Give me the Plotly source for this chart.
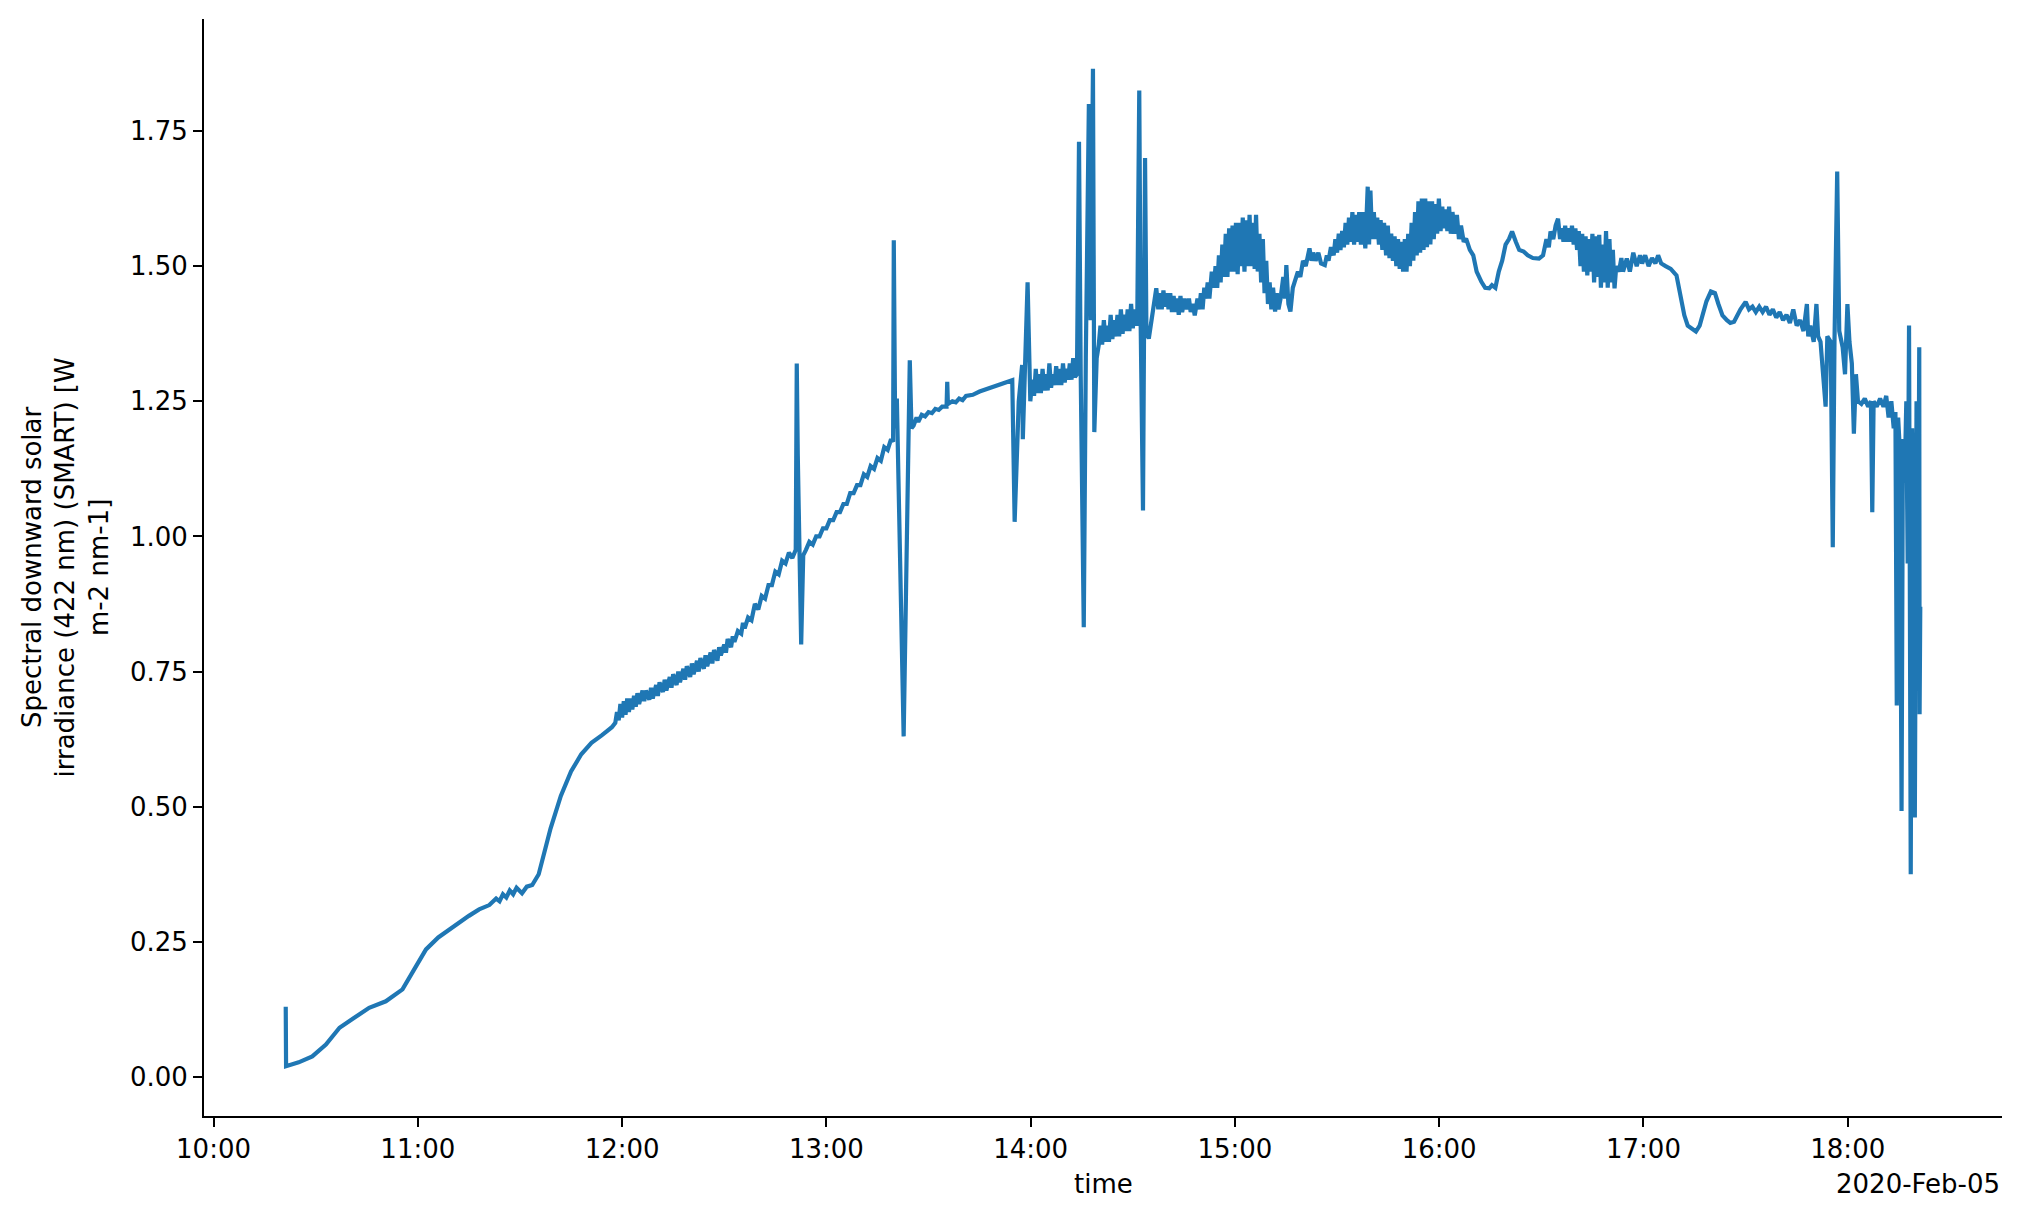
import pandas as pd
import plotly.graph_objects as go

# (minutes after 10:00, irradiance W m-2 nm-1), in segments
seg_morning = [
    (21.2, 0.13), (21.3, 0.02), (25, 0.027), (29, 0.038), (33, 0.06), (37, 0.091), (41, 0.108),
    (45.7, 0.128), (50.6, 0.14), (55.5, 0.162), (59.5, 0.205), (62.4, 0.236), (66, 0.258),
    (69.2, 0.273), (72, 0.285), (75, 0.298), (78, 0.31), (81, 0.318), (83, 0.33), (84, 0.325),
    (85, 0.338), (86, 0.332), (87, 0.345), (88, 0.338), (89, 0.35), (90.6, 0.34), (92, 0.352),
    (93.6, 0.355), (95.5, 0.375), (97, 0.41), (99, 0.46), (102, 0.52), (105, 0.565), (108, 0.597),
    (111, 0.618), (114, 0.632), (117, 0.647),
]
seg_noon = [
    (118, 0.655), (118.5, 0.675), (119, 0.66), (119.5, 0.69), (120, 0.665), (120.5, 0.695),
    (121, 0.67), (121.5, 0.70), (122, 0.675), (122.5, 0.70), (123, 0.68), (123.5, 0.705),
    (124, 0.685), (124.5, 0.71), (125, 0.69), (126, 0.715), (126.5, 0.695), (127, 0.715),
    (128, 0.698), (128.5, 0.72), (129, 0.70), (130, 0.725), (130.5, 0.705), (131, 0.73),
    (132, 0.712), (132.5, 0.735), (133, 0.715), (134, 0.74), (134.5, 0.72), (135, 0.745),
    (136, 0.725), (136.5, 0.75), (137, 0.73), (138, 0.755), (138.5, 0.735), (139, 0.76),
    (140, 0.74), (140.5, 0.765), (141, 0.745), (142, 0.77), (142.5, 0.75), (143, 0.775),
    (144, 0.755), (144.5, 0.78), (145, 0.76), (146, 0.785), (146.5, 0.765), (147, 0.79),
    (148, 0.77), (148.5, 0.795), (149, 0.78), (150, 0.80), (150.5, 0.785), (151, 0.81),
    (152, 0.795), (152.5, 0.815), (153, 0.805), (154, 0.825), (155, 0.82), (155.5, 0.84),
    (156, 0.83), (157, 0.85), (158, 0.845), (159, 0.875), (160, 0.865), (161, 0.89), (162, 0.885),
    (163, 0.91), (164, 0.91), (165, 0.935), (166, 0.93), (167, 0.955), (168, 0.95), (169, 0.97),
    (170, 0.96), (171, 0.975),
]
seg_early_pm = [
    (171.3, 1.32), (171.6, 1.15), (172.6, 0.80), (173.2, 0.965), (174, 0.975), (175, 0.99),
    (176, 0.985), (177, 1.0), (178, 1.0), (179, 1.015), (180, 1.015), (181, 1.03), (182, 1.03),
    (183, 1.045), (184, 1.045), (185, 1.06), (186, 1.06), (187, 1.08), (188, 1.08), (189, 1.095),
    (190, 1.095), (191, 1.115), (192, 1.11), (193, 1.13), (194, 1.125), (195, 1.145), (196, 1.14),
    (197, 1.165), (198, 1.16), (199, 1.18), (199.6, 1.175),
    (199.8, 1.548), (200.2, 1.20), (200.7, 1.255), (202.7, 0.63), (204.5, 1.326), (205.0, 1.20),
    (205.6, 1.205), (206.5, 1.22), (207, 1.212), (208, 1.225), (209, 1.222), (210, 1.23),
    (211, 1.228), (212, 1.236), (213, 1.234), (214, 1.24), (215.3, 1.24), (215.5, 1.286),
    (215.7, 1.245), (217, 1.25), (218, 1.248), (219, 1.255), (220, 1.252), (221, 1.26),
    (223, 1.262), (225, 1.268), (227, 1.272), (229, 1.277), (231, 1.28), (233, 1.285), (234.6, 1.289),
]
seg_spiky = [
    (235.3, 1.027), (236.5, 1.25), (237.5, 1.317), (237.7, 1.18), (239.1, 1.47), (239.9, 1.25),
    (240.5, 1.29), (241, 1.26), (241.5, 1.31), (242, 1.265), (242.5, 1.30), (243, 1.265),
    (243.5, 1.31), (244, 1.27), (244.5, 1.30), (245, 1.27), (245.5, 1.32), (246, 1.275),
    (246.5, 1.30), (247, 1.28), (247.5, 1.315), (248, 1.28), (248.5, 1.31), (249, 1.28),
    (249.5, 1.32), (250, 1.285), (250.5, 1.31), (251, 1.29), (251.5, 1.32), (252, 1.29),
    (252.5, 1.33), (253, 1.295), (253.6, 1.30),
    (254.2, 1.73), (254.7, 1.30), (255.6, 0.832), (256.2, 1.33), (257.1, 1.80), (257.6, 1.40),
    (258.3, 1.865), (258.7, 1.193), (259.4, 1.33), (260, 1.354), (260.5, 1.39), (261, 1.355),
    (261.5, 1.40), (262, 1.36), (262.5, 1.39), (263, 1.36), (263.5, 1.41), (264, 1.365),
    (264.5, 1.40), (265, 1.37), (265.5, 1.41), (266, 1.37), (266.5, 1.42), (267, 1.375),
    (267.5, 1.41), (268, 1.38), (268.5, 1.42), (269, 1.38), (269.5, 1.43), (270, 1.385),
    (270.5, 1.42), (271.3, 1.39), (271.9, 1.825), (272.3, 1.40), (273.0, 1.048), (273.6, 1.70),
    (274.0, 1.38), (274.7, 1.366),
]
seg_afternoon = [
    (275.5, 1.40), (276.9, 1.459), (277.5, 1.42), (278, 1.45), (278.5, 1.42), (279, 1.455),
    (279.5, 1.425), (280, 1.45), (280.5, 1.42), (281, 1.45), (281.5, 1.415), (282, 1.445),
    (282.5, 1.415), (283, 1.44), (283.5, 1.41), (284, 1.445), (284.5, 1.415), (285.2, 1.44),
    (285.9, 1.42), (286.5, 1.44), (287, 1.415), (287.6, 1.43), (288.2, 1.409), (289, 1.44),
    (289.5, 1.42), (290, 1.45), (290.5, 1.42), (291, 1.46), (291.5, 1.44), (292, 1.47),
    (292.5, 1.44), (293.2, 1.49), (293.8, 1.46), (294.3, 1.50), (294.8, 1.46), (295.3, 1.52),
    (295.8, 1.47), (296.3, 1.54), (296.8, 1.48), (297.3, 1.56), (297.8, 1.48), (298.3, 1.57),
    (298.8, 1.49), (299.3, 1.575), (299.8, 1.49), (300.3, 1.58), (300.8, 1.485), (301.3, 1.58),
    (301.8, 1.50), (302.3, 1.59), (302.8, 1.49), (303.3, 1.585), (303.8, 1.50), (304.3, 1.595),
    (304.8, 1.50), (305.3, 1.58), (305.8, 1.495), (306.2, 1.595), (306.7, 1.49), (307.2, 1.56),
    (307.7, 1.47), (308.2, 1.55), (308.7, 1.45), (309.2, 1.51), (309.7, 1.43), (310.2, 1.47),
    (310.7, 1.42), (311.2, 1.46), (311.8, 1.416), (312.3, 1.45), (312.8, 1.42), (313.4, 1.44),
    (314.2, 1.48), (314.7, 1.44), (315.1, 1.502), (315.7, 1.43), (316.3, 1.416), (317, 1.46),
    (317.5, 1.47), (318.5, 1.49), (319.2, 1.48), (320, 1.51), (320.8, 1.50), (321.9, 1.533),
    (322.5, 1.51), (323, 1.525), (323.7, 1.51), (324.5, 1.525), (325.3, 1.505), (326.4, 1.502),
    (327, 1.52), (327.5, 1.51), (328.2, 1.535), (329, 1.52), (329.5, 1.55), (330, 1.525),
    (330.5, 1.56), (331, 1.53), (331.5, 1.565), (332, 1.535), (332.5, 1.58), (333, 1.54),
    (333.5, 1.59), (334, 1.545), (334.5, 1.60), (335, 1.54), (335.5, 1.595), (336, 1.545),
    (336.5, 1.60), (337, 1.54), (337.6, 1.60), (338.3, 1.533), (339.0, 1.647), (339.4, 1.54),
    (339.8, 1.64), (340.3, 1.55), (340.8, 1.60), (341.3, 1.55), (341.8, 1.59), (342.3, 1.54),
    (342.8, 1.585), (343.3, 1.53), (343.8, 1.58), (344.4, 1.52), (344.9, 1.575), (345.4, 1.515),
    (345.9, 1.56), (346.4, 1.51), (346.9, 1.555), (347.4, 1.50), (347.9, 1.55), (348.4, 1.495),
    (348.9, 1.545), (349.4, 1.49), (349.9, 1.55), (350.4, 1.49), (350.9, 1.56), (351.4, 1.50),
    (351.9, 1.58), (352.4, 1.51), (352.9, 1.60), (353.4, 1.52), (353.9, 1.62), (354.4, 1.525),
    (354.9, 1.625), (355.4, 1.53), (355.9, 1.625), (356.4, 1.535), (356.9, 1.62), (357.4, 1.54),
    (357.9, 1.62), (358.4, 1.55), (358.9, 1.615), (359.4, 1.56), (359.9, 1.625), (360.4, 1.565),
    (360.9, 1.61), (361.4, 1.57), (361.9, 1.605), (362.4, 1.565), (362.9, 1.61), (363.4, 1.56),
    (363.9, 1.60), (364.6, 1.56), (365.2, 1.595), (365.8, 1.55), (366.4, 1.575), (367.2, 1.545),
    (367.9, 1.551), (369, 1.53), (370, 1.52), (371, 1.49), (372.4, 1.471), (373.5, 1.46),
    (374.7, 1.459), (375.5, 1.465), (376.5, 1.46), (377.5, 1.49), (378.5, 1.51), (379.5, 1.54),
    (380.5, 1.55), (381.4, 1.564), (382.5, 1.545), (383.5, 1.53), (384.8, 1.527), (386, 1.52),
    (387.5, 1.515), (389.3, 1.514), (390.5, 1.52), (391.5, 1.55), (392.2, 1.535), (392.7, 1.564),
    (393.5, 1.55), (394.2, 1.575), (394.9, 1.588), (395.5, 1.55), (396, 1.57), (396.5, 1.545),
    (397, 1.575), (397.5, 1.545), (398, 1.57), (398.5, 1.545), (399, 1.575), (399.5, 1.54),
    (400, 1.57), (400.5, 1.53), (401, 1.565), (401.5, 1.50), (402, 1.56), (402.5, 1.49),
    (403, 1.555), (403.5, 1.483), (404, 1.55), (404.5, 1.49), (405, 1.56), (405.5, 1.47),
    (406, 1.555), (406.5, 1.48), (407, 1.558), (407.5, 1.46), (408, 1.54), (408.5, 1.47),
    (409, 1.565), (409.5, 1.46), (410, 1.55), (410.5, 1.47), (411, 1.53), (411.5, 1.459),
    (412, 1.50), (412.8, 1.49), (413.5, 1.515), (414, 1.49), (415.1, 1.514), (416, 1.49),
    (417, 1.525), (418, 1.50), (419, 1.52), (419.6, 1.505), (420.5, 1.52), (421.5, 1.50),
    (422.5, 1.515), (423.5, 1.505), (424.3, 1.52), (425.2, 1.505), (426.5, 1.50), (428, 1.495),
    (429.7, 1.483), (430.8, 1.45), (432.0, 1.409), (433, 1.39), (434.2, 1.385), (435.4, 1.379),
    (436.5, 1.39), (437.5, 1.41), (438.5, 1.435), (439.8, 1.453), (441, 1.45), (442, 1.43),
    (443.2, 1.409), (444.5, 1.40), (445.5, 1.395), (446.6, 1.397), (447.5, 1.41), (448.5, 1.42),
    (450, 1.434),
]
seg_evening = [
    (451, 1.42), (452, 1.425), (453, 1.415), (454, 1.425), (455, 1.415), (456, 1.425), (457, 1.41),
    (458, 1.42), (459, 1.405), (460, 1.415), (461, 1.40), (462, 1.41), (463, 1.395), (464, 1.42),
    (465, 1.39), (466, 1.40), (467, 1.38), (468, 1.43), (468.4, 1.37), (469, 1.39), (470, 1.36),
    (470.8, 1.43), (471.3, 1.37), (472, 1.36), (473.5, 1.24), (474, 1.37), (475, 1.36),
    (475.6, 0.98), (476.1, 1.36), (476.9, 1.675), (477.5, 1.38), (478.5, 1.35), (479.2, 1.30),
    (479.9, 1.43), (480.5, 1.36), (481.2, 1.32), (481.8, 1.19), (482.4, 1.30), (483, 1.25),
    (484, 1.245), (485, 1.255), (486, 1.24), (486.8, 1.25), (487.2, 1.045), (487.6, 1.25),
    (488.5, 1.24), (489.5, 1.255), (490.5, 1.24), (491.3, 1.26), (492, 1.22), (492.8, 1.25),
    (493.5, 1.20), (494, 1.23), (494.4, 0.687), (494.8, 1.22), (495.3, 1.16), (495.8, 0.492),
    (496.2, 1.18), (496.7, 1.10), (497.2, 1.25), (497.6, 0.95), (498.0, 1.39), (498.5, 0.375),
    (498.9, 1.20), (499.3, 1.05), (499.7, 0.48), (500.2, 1.25), (500.6, 0.80), (501.0, 1.35),
    (501.1, 0.671), (501.3, 0.87),
]

y_ticks = [0.0, 0.25, 0.5, 0.75, 1.0, 1.25, 1.5, 1.75]
y_label = "Spectral downward solar<br>irradiance (422 nm) (SMART) [W<br>m-2 nm-1]"

points = seg_morning + seg_noon + seg_early_pm + seg_spiky + seg_afternoon + seg_evening
base = pd.Timestamp("2020-02-05 10:00:00")
times = [base + pd.Timedelta(minutes=m) for m, _ in points]
values = [v for _, v in points]

# matplotlib-like 5% margins
t_pad = (times[-1] - times[0]) * 0.05
v_pad = (max(values) - min(values)) * 0.05

font = dict(family="DejaVu Sans", size=26, color="black")

fig = go.Figure(go.Scatter(x=times, y=values, mode="lines",
                           line=dict(color="#1f77b4", width=4.2)))

# page body has an 8px margin, so the figure is sized to fit inside it
fig.update_layout(
    width=2007, height=1207,
    plot_bgcolor="white", paper_bgcolor="white",
    margin=dict(l=196, r=13, t=11, b=99),
    showlegend=False,
    font=font,
    xaxis=dict(range=[times[0] - t_pad, times[-1] + t_pad],
               tickformat="%H:%M", dtick=3600000, tick0="2020-02-05 10:00",
               showgrid=False, zeroline=False, showline=True, linecolor="black", linewidth=2,
               ticks="outside", ticklen=9, tickwidth=2, tickcolor="black", tickfont=font),
    yaxis=dict(range=[min(values) - v_pad, max(values) + v_pad],
               tickvals=y_ticks, tickformat=".2f",
               showgrid=False, zeroline=False, showline=True, linecolor="black", linewidth=2,
               ticks="outside", ticklen=9, tickwidth=2, tickcolor="black", tickfont=font),
    annotations=[
        dict(text=y_label, textangle=-90, xref="paper", yref="paper", x=-0.0773, y=0.5,
             xanchor="center", yanchor="middle", showarrow=False, font=font),
        dict(text="time", xref="paper", yref="paper", x=0.5, y=-0.062,
             xanchor="center", yanchor="middle", showarrow=False, font=font),
        dict(text="2020-Feb-05", xref="paper", yref="paper", x=1.0, y=-0.062,
             xanchor="right", yanchor="middle", showarrow=False, font=font),
    ],
)

fig.write_html("out.html")
